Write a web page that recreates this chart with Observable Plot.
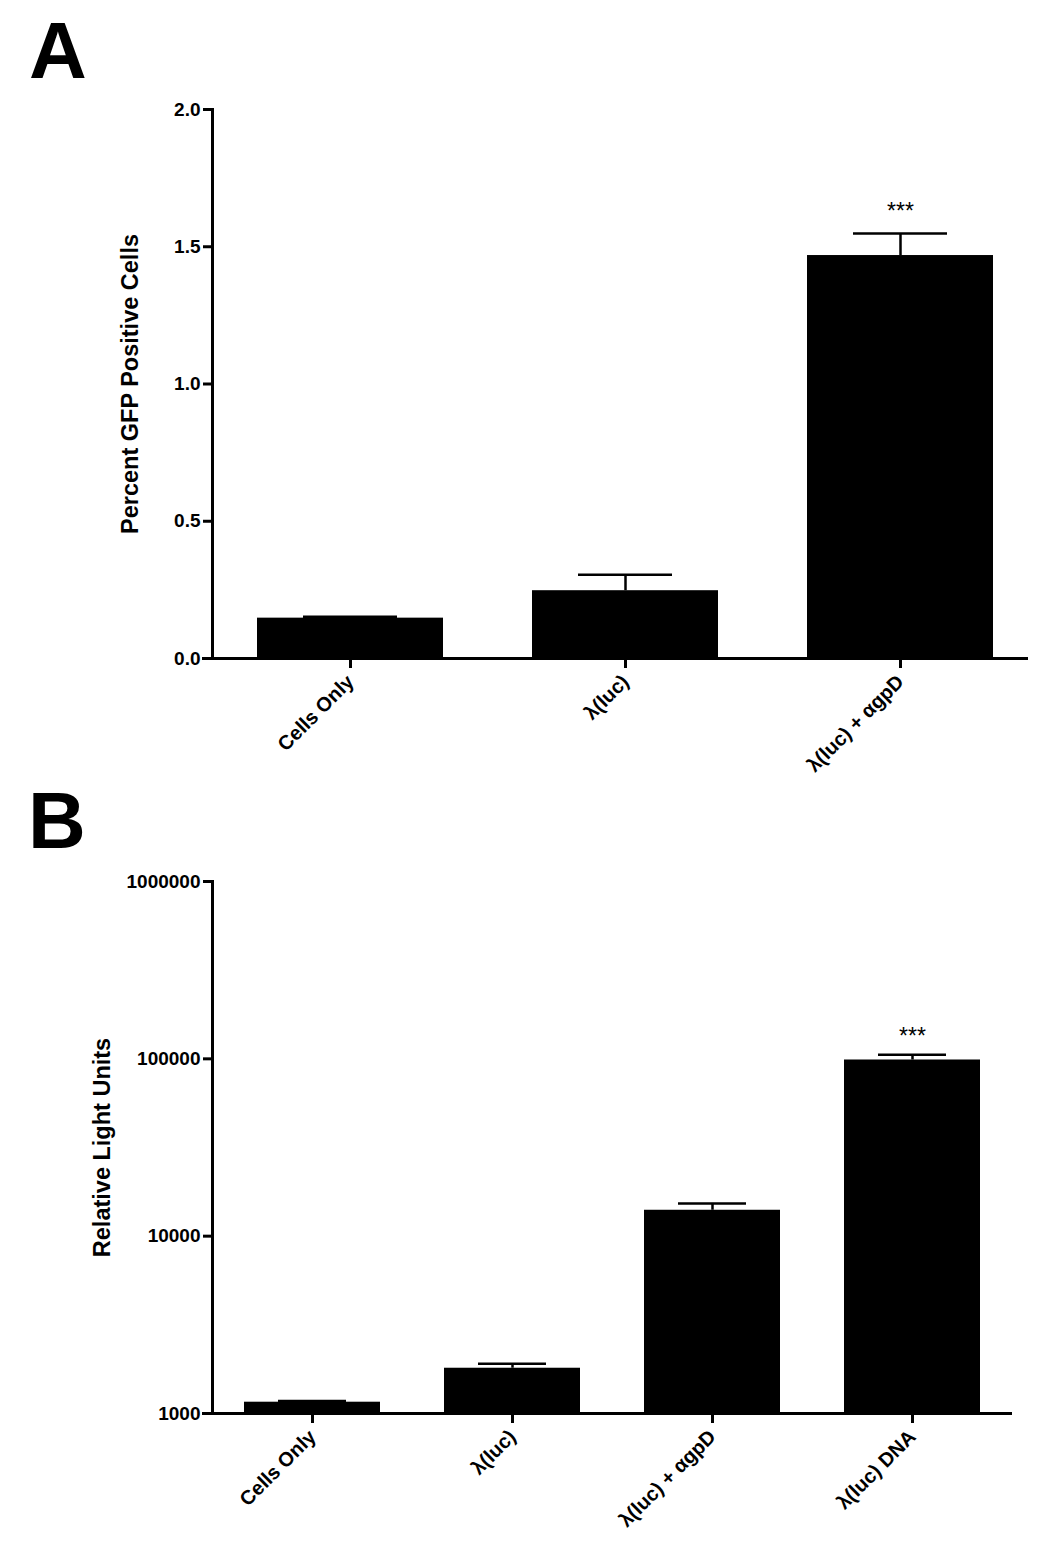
<!DOCTYPE html>
<html>
<head>
<meta charset="utf-8">
<script src="https://cdn.jsdelivr.net/npm/d3@7"></script>
<script src="https://cdn.jsdelivr.net/npm/@observablehq/plot@0.6"></script>
<style>
  html, body { margin: 0; padding: 0; background: #fff; }
  #page { position: relative; width: 1050px; height: 1555px; font-family: "Liberation Sans", Arial, sans-serif; }
  .letter { position: absolute; font-weight: bold; font-size: 80px; line-height: 1; color: #000; z-index: 2; }
  .panel { position: absolute; left: 0; z-index: 1; }
  #page svg g[aria-label="y-axis tick label"] text { font-size: 19px; }
  #page svg g[aria-label="x-axis tick label"] text { font-size: 20px; }
  #page svg g[aria-label="y-axis label"] text { font-size: 23.5px; }
  #page svg g[aria-label="text"] text { font-size: 23px; font-weight: normal; }
</style>
</head>
<body>
<div id="page">
  <div class="panel" id="panelA" style="top:0px;"></div>
  <div class="panel" id="panelB" style="top:800px;"></div>
  <div class="letter" style="left:29px; top:11px;">A</div>
  <div class="letter" style="left:28px; top:781px;">B</div>
</div>
<script>
// Panel A data
const groupsA = ["Cells Only", "λ(luc)", "λ(luc) + αgpD"];
const valuesA = [0.147, 0.247, 1.468];
const errorsA = [0.005, 0.058, 0.080];
const starsA = ["", "", "***"];
const ticksA = [0.0, 0.5, 1.0, 1.5, 2.0];

// Panel B data
const groupsB = ["Cells Only", "λ(luc)", "λ(luc) + αgpD", "λ(luc) DNA"];
const valuesB = [1158, 1800, 14000, 98500];
const errorsB = [18, 110, 1300, 7000];
const starsB = ["", "", "", "***"];
const ticksB = [1000, 10000, 100000, 1000000];

const dataA = groupsA.map((g, i) => ({g, v: valuesA[i], e: valuesA[i] + errorsA[i], s: starsA[i]}));
const dataB = groupsB.map((g, i) => ({g, v: valuesB[i], e: valuesB[i] + errorsB[i], s: starsB[i]}));

const font = "Liberation Sans, Arial, sans-serif";
const sw = 3;

function panel(data, opts) {
  return Plot.plot({
    width: 1050,
    height: opts.height,
    marginTop: opts.marginTop,
    marginBottom: opts.marginBottom,
    marginLeft: 212,
    marginRight: opts.marginRight,
    style: {fontFamily: font, fontSize: "19px", fontWeight: "bold", color: "#000", background: "#fff", overflow: "visible"},
    x: {domain: opts.groups, paddingInner: opts.padInner, paddingOuter: opts.padInner / 2, align: 0.5},
    y: opts.y,
    marks: [
      Plot.barY(data, {x: "g", y1: opts.base, y2: "v", fill: "#000"}),
      Plot.ruleX(data, {x: "g", y1: "v", y2: "e", stroke: "#000", strokeWidth: 2.5}),
      Plot.tickY(data, {x: "g", y: "e", stroke: "#000", strokeWidth: 2.5, insetLeft: opts.capInset, insetRight: opts.capInset}),
      Plot.text(data, {x: "g", y: "e", text: "s", dy: opts.starDy, fill: "#000"}),
      Plot.frame({anchor: "left", stroke: "#000", strokeWidth: sw}),
      Plot.ruleY([opts.base], {stroke: "#000", strokeWidth: sw, insetLeft: -10, insetRight: opts.axisInsetRight}),
      Plot.axisY({ticks: opts.ticks, tickFormat: opts.fmt, tickSize: 9, tickPadding: 3, strokeWidth: sw,
        label: opts.label, labelAnchor: "center", labelArrow: "none", labelOffset: opts.labelOffset}),
      Plot.axisX({tickSize: 10, tickPadding: 10, strokeWidth: sw, tickRotate: -45, label: null})
    ]
  });
}

document.getElementById("panelA").appendChild(panel(dataA, {
  height: 800, marginTop: 109, marginBottom: 142, marginRight: 13, axisInsetRight: 9,
  groups: groupsA, padInner: 0.324, base: 0, capInset: 46,
  y: {domain: [0, 2], type: "linear"},
  ticks: ticksA, fmt: d3.format(".1f"), label: "Percent GFP Positive Cells", labelOffset: 91,
  starDy: -22
}));

document.getElementById("panelB").appendChild(panel(dataB, {
  height: 755, marginTop: 81, marginBottom: 142, marginRight: 38, axisInsetRight: 0,
  groups: groupsB, padInner: 0.32, base: 1000, capInset: 34,
  y: {domain: [1000, 1000000], type: "log"},
  ticks: ticksB, fmt: d3.format("d"), label: "Relative Light Units", labelOffset: 119,
  starDy: -18
}));
</script>
</body>
</html>
